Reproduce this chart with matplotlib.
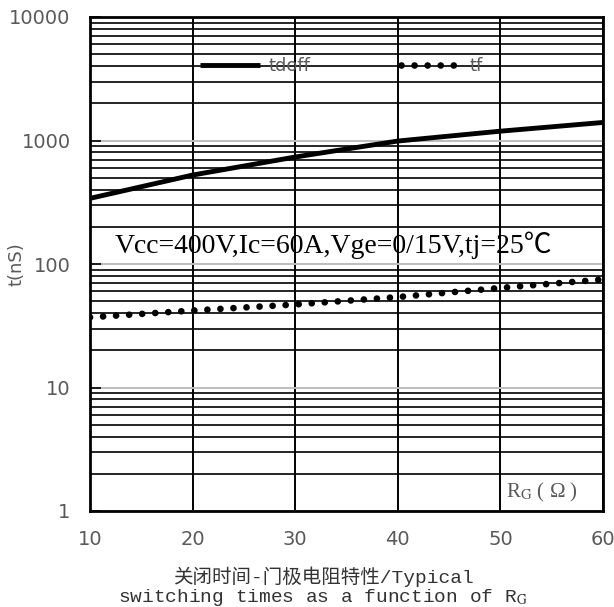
import matplotlib
matplotlib.use("Agg")
import matplotlib.pyplot as plt
from matplotlib.ticker import FixedLocator, NullFormatter

# data
rg = [10, 20, 30, 40, 50, 60]
tdoff = [340, 525, 735, 990, 1190, 1400]
tf = [37, 42, 47, 54, 64, 75]

x_ticks = [10, 20, 30, 40, 50, 60]
y_ticks = [1, 10, 100, 1000, 10000]
y_labels = ["1", "10", "100", "1000", "10000"]

plt.rcParams["mathtext.fontset"] = "stix"
gray = "#595959"

fig = plt.figure(figsize=(6.14, 6.07), dpi=100)
ax = fig.add_axes([90 / 614, 1 - 511 / 607, 513 / 614, 494 / 607])

ax.set_yscale("log")
ax.set_xlim(10, 60)
ax.set_ylim(1, 10000)

# grid: gray majors, black minors, black verticals
minor = [m * 10 ** d for d in range(4) for m in range(2, 10)]
ax.yaxis.set_minor_locator(FixedLocator(minor))
ax.yaxis.set_minor_formatter(NullFormatter())
ax.yaxis.set_major_locator(FixedLocator(y_ticks))
ax.set_yticklabels(y_labels)
ax.set_xticks(x_ticks)
ax.grid(which="minor", axis="y", color="black", lw=1.2)
ax.grid(which="major", axis="y", color="#bdbdbd", lw=1.4)
ax.grid(which="major", axis="x", color="black", lw=1.4)
ax.set_axisbelow(True)

ax.tick_params(axis="y", which="major", direction="in", length=8, width=1.2,
               color="black", pad=14, labelsize=14, labelcolor=gray)
ax.tick_params(axis="y", which="minor", length=0)
ax.tick_params(axis="x", length=0, pad=14, labelsize=14, labelcolor=gray)
for s in ax.spines.values():
    s.set_linewidth(2)

ax.plot(rg, tdoff, color="black", lw=3.5, label="tdoff", solid_capstyle="butt")
ax.plot(rg, tf, color="black", lw=4.8, linestyle=(0, (0.01, 1.95)),
        dash_capstyle="round", label="tf")

leg = ax.legend(ncol=2, loc="center", bbox_to_anchor=(0.49, 0.90), frameon=False,
                fontsize=13, handlelength=3.3, handletextpad=0.5, columnspacing=5)
for t in leg.get_texts():
    t.set_color(gray)

ax.text(0.049, 0.538, "Vcc=400V,Ic=60A,Vge=0/15V,tj=25℃", transform=ax.transAxes,
        ha="left", va="center", fontsize=20,
        family=["Liberation Serif", "Noto Sans CJK SC"])
ax.text(0.81, 0.038, r"R$_{\rm G}$ ( Ω )", transform=ax.transAxes, ha="left",
        va="center", fontsize=15, color=gray, family=["Liberation Serif"])

ax.set_ylabel("t(nS)", fontsize=13, color=gray)
ax.yaxis.set_label_coords(-0.125, 0.50)

fig.text(323 / 614, 1 - 577 / 607, "关闭时间-门极电阻特性/Typical", ha="center", va="center",
         fontsize=14, family=["Liberation Mono", "Noto Sans CJK SC"], color="#333333")
fig.text(323 / 614, 1 - 598 / 607, r"switching times as a function of R$_{\rm G}$",
         ha="center", va="center", fontsize=14,
         family=["Liberation Mono", "Noto Sans CJK SC"], color="#333333")

fig.savefig("out.png", dpi=100)
